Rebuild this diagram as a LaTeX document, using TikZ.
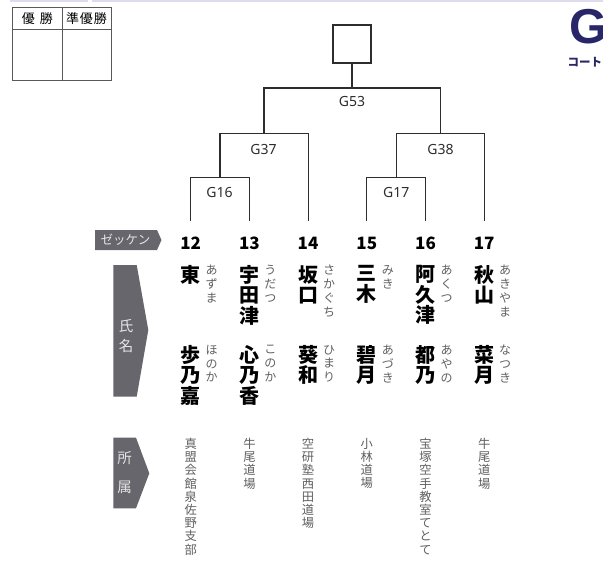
\documentclass[tikz,border=0pt]{standalone}
\usepackage{fontspec}
\setmainfont{Noto Sans CJK JP}
\newfontfamily\latin{Noto Sans}
\newfontfamily\courtfont{Liberation Sans}
\usetikzlibrary{positioning}
\definecolor{bracketline}{RGB}{45,45,45}
\definecolor{tagfill}{RGB}{102,102,108}
\definecolor{kanagray}{RGB}{95,95,95}
\definecolor{courtnavy}{RGB}{40,38,105}
\definecolor{rulegray}{RGB}{221,219,236}

\begin{document}
\begin{tikzpicture}[x=1pt,y=-1pt,node distance=58.7pt,inner sep=0pt]
  \tikzstyle{bracket}=[draw=bracketline,line width=1.2pt]
  \tikzstyle{gamelabel}=[font=\latin\fontsize{14}{14}\selectfont,text=bracketline]
  \tikzstyle{num}=[font=\bfseries\fontsize{17}{17}\selectfont]
  \tikzstyle{sei}=[anchor=north,align=center,font=\bfseries\fontsize{20}{20.6}\selectfont]
  \tikzstyle{kana}=[anchor=north,align=center,text=kanagray,xshift=21pt,
              font=\fontsize{12}{13.8}\selectfont]
  \tikzstyle{dojo}=[anchor=north,align=center,text=kanagray,font=\fontsize{12.3}{13.2}\selectfont]
  \tikzstyle{tagfill}=[fill=tagfill]
  \tikzstyle{tagtext}=[align=center,text=black!10,font=\fontsize{14.5}{20}\selectfont]
  \tikzstyle{tablebox}=[draw=black!65,line width=0.9pt]
  \useasboundingbox (0,0) rectangle (603,563);
  \draw[rulegray,line width=1.6pt] (10,0.8) -- (88,0.8) (92,0.8) -- (603,0.8);

  % winner table
  \draw[tablebox] (12.7,7) rectangle (111,80);
  \draw[tablebox] (12.7,29) -- (111,29) (62,7) -- (62,80);
  \node [font=\fontsize{13}{13}\selectfont] (yusho) at (37.4,18.5) {優\hspace{5pt}勝};
  \node [font=\fontsize{13}{13}\selectfont] (junyusho) at (86.5,18.5) {準\hspace{1pt}優\hspace{1pt}勝};

  % court
  \node [anchor=base west,text=courtnavy,font=\courtfont\bfseries\fontsize{49}{49}\selectfont] (court) at (569,43.5) {G};
  \node [anchor=base west,text=courtnavy,font=\bfseries\fontsize{11.5}{12}\selectfont] (courtsub) at (567.5,66) {コート};

  % side tags
  \fill[tagfill] (95,230) -- (157,230) -- (161.5,240) -- (157,250) -- (95,250) -- cycle;
  \node [tagtext,font=\fontsize{12.5}{12}\selectfont] (zekken) at (125.5,240) {ゼッケン};
  \fill[tagfill] (113.3,265) -- (136.7,265) -- (148.3,330) -- (136.7,396.7) -- (113.3,396.7) -- cycle;
  \node [tagtext] (shimei) at (126,336) {氏\\名};
  \fill[tagfill] (113.3,437.7) -- (136,437.7) -- (149.3,473.3) -- (136,508.3) -- (113.3,508.3) -- cycle;
  \node [tagtext,font=\fontsize{14.5}{29}\selectfont] (shozoku) at (124.5,473) {所\\属};

  % rows
  \coordinate (leafrow) at (0,220.7);
  \coordinate (surrow) at (0,265);
  \coordinate (givenrow) at (0,345);
  \coordinate (affilrow) at (0,438);

  % bib numbers
  \node [num] (n12) at (190.7,243.5) {12};
  \node [num] (n13) [right of=n12] {13};
  \node [num] (n14) [right of=n13] {14};
  \node [num] (n15) [right of=n14] {15};
  \node [num] (n16) [right of=n15] {16};
  \node [num] (n17) [right of=n16] {17};

  % names
  \node [sei] (s12) at (n12 |- surrow) {東};
  \node [sei] (m12) at (n12 |- givenrow) {歩\\乃\\嘉};
  \node [kana] (ks12) at (n12 |- surrow) {あ\\ず\\ま};
  \node [kana] (km12) at (n12 |- givenrow) {ほ\\の\\か};
  \node [sei] (s13) at (n13 |- surrow) {宇\\田\\津};
  \node [sei] (m13) at (n13 |- givenrow) {心\\乃\\香};
  \node [kana] (ks13) at (n13 |- surrow) {う\\だ\\つ};
  \node [kana] (km13) at (n13 |- givenrow) {こ\\の\\か};
  \node [sei] (s14) at (n14 |- surrow) {坂\\口};
  \node [sei] (m14) at (n14 |- givenrow) {葵\\和};
  \node [kana] (ks14) at (n14 |- surrow) {さ\\か\\ぐ\\ち};
  \node [kana] (km14) at (n14 |- givenrow) {ひ\\ま\\り};
  \node [sei] (s15) at (n15 |- surrow) {三\\木};
  \node [sei] (m15) at (n15 |- givenrow) {碧\\月};
  \node [kana] (ks15) at (n15 |- surrow) {み\\き};
  \node [kana] (km15) at (n15 |- givenrow) {あ\\づ\\き};
  \node [sei] (s16) at (n16 |- surrow) {阿\\久\\津};
  \node [sei] (m16) at (n16 |- givenrow) {都\\乃};
  \node [kana] (ks16) at (n16 |- surrow) {あ\\く\\つ};
  \node [kana] (km16) at (n16 |- givenrow) {あ\\や\\の};
  \node [sei] (s17) at (n17 |- surrow) {秋\\山};
  \node [sei] (m17) at (n17 |- givenrow) {菜\\月};
  \node [kana] (ks17) at (n17 |- surrow) {あ\\き\\や\\ま};
  \node [kana] (km17) at (n17 |- givenrow) {な\\つ\\き};

  % dojo
  \node [dojo] (d12) at (n12 |- affilrow) {真\\盟\\会\\館\\泉\\佐\\野\\支\\部};
  \node [dojo] (d13) at (n13 |- affilrow) {牛\\尾\\道\\場};
  \node [dojo] (d14) at (n14 |- affilrow) {空\\研\\塾\\西\\田\\道\\場};
  \node [dojo] (d15) at (n15 |- affilrow) {小\\林\\道\\場};
  \node [dojo] (d16) at (n16 |- affilrow) {宝\\塚\\空\\手\\教\\室\\て\\と\\て};
  \node [dojo] (d17) at (n17 |- affilrow) {牛\\尾\\道\\場};

  % bracket
  \coordinate (l12) at (n12 |- leafrow);
  \coordinate (l13) at (n13 |- leafrow);
  \coordinate (l14) at (n14 |- leafrow);
  \coordinate (l15) at (n15 |- leafrow);
  \coordinate (l16) at (n16 |- leafrow);
  \coordinate (l17) at (n17 |- leafrow);
  \coordinate (g16) at (220,177.3);
  \coordinate (g17) at (396.2,177.3);
  \coordinate (g37) at (264,133.3);
  \coordinate (g38) at (440.2,133.3);
  \coordinate (g53) at (352,88);
  \node [draw=bracketline,line width=1.2pt,minimum size=38pt] (win) at (352,44) {};
  \draw[bracket] (l12) |- (g16) -| (l13);
  \draw[bracket] (g16) |- (g37) -| (l14);
  \draw[bracket] (l15) |- (g17) -| (l16);
  \draw[bracket] (g17) |- (g38) -| (l17);
  \draw[bracket] (g37) |- (g53) -| (g38);
  \draw[bracket] (g53) -- (win);
  \node [gamelabel] (lab53) at (352,101.7) {G53};
  \node [gamelabel] (lab37) at (263.5,149) {G37};
  \node [gamelabel] (lab38) at (440.5,149) {G38};
  \node [gamelabel] (lab16) at (219.5,192) {G16};
  \node [gamelabel] (lab17) at (396.2,192) {G17};
\end{tikzpicture}
\end{document}
